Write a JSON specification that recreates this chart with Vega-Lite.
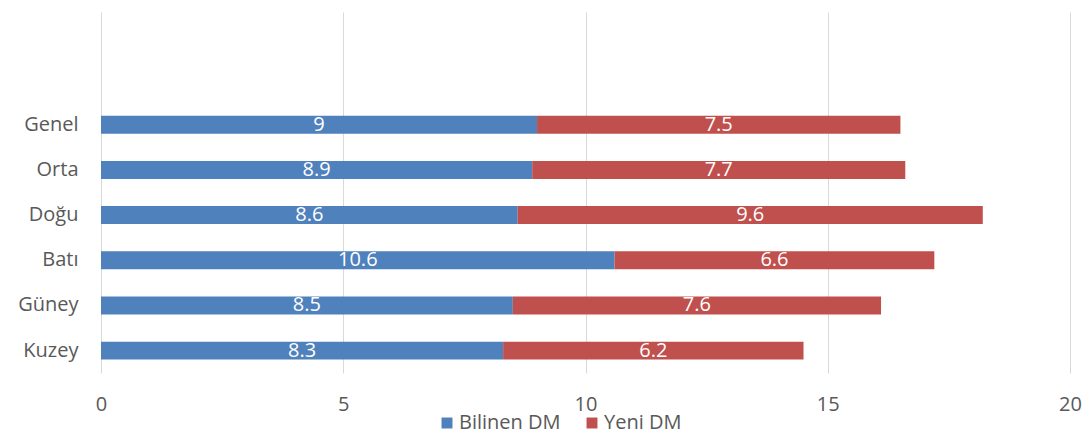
{
  "$schema": "https://vega.github.io/schema/vega-lite/v6.json",
  "autosize": "none",
  "width": 969,
  "height": 361,
  "padding": {"left": 101, "top": 12, "right": 21, "bottom": 64},
  "background": "white",
  "config": {
    "view": {"stroke": null},
    "font": "Open Sans"
  },
  "data": {
    "values": [
      {"region": "Genel", "series": "Bilinen DM", "value": 9.0},
      {"region": "Genel", "series": "Yeni DM", "value": 7.5},
      {"region": "Orta", "series": "Bilinen DM", "value": 8.9},
      {"region": "Orta", "series": "Yeni DM", "value": 7.7},
      {"region": "Doğu", "series": "Bilinen DM", "value": 8.6},
      {"region": "Doğu", "series": "Yeni DM", "value": 9.6},
      {"region": "Batı", "series": "Bilinen DM", "value": 10.6},
      {"region": "Batı", "series": "Yeni DM", "value": 6.6},
      {"region": "Güney", "series": "Bilinen DM", "value": 8.5},
      {"region": "Güney", "series": "Yeni DM", "value": 7.6},
      {"region": "Kuzey", "series": "Bilinen DM", "value": 8.3},
      {"region": "Kuzey", "series": "Yeni DM", "value": 6.2}
    ]
  },
  "encoding": {
    "y": {
      "field": "region",
      "type": "nominal",
      "scale": {
        "domain": [" ", "  ", "Genel", "Orta", "Doğu", "Batı", "Güney", "Kuzey"],
        "paddingInner": 0.603,
        "paddingOuter": 0.296
      },
      "axis": {
        "title": null,
        "ticks": false,
        "domain": false,
        "labelPadding": 23,
        "labelFontSize": 20,
        "labelColor": "#595959"
      }
    }
  },
  "layer": [
    {
      "mark": {"type": "bar"},
      "encoding": {
        "x": {
          "field": "value",
          "type": "quantitative",
          "stack": "zero",
          "scale": {"domain": [0, 20], "nice": false},
          "axis": {
            "title": null,
            "values": [0, 5, 10, 15, 20],
            "ticks": false,
            "domain": false,
            "grid": true,
            "gridColor": "#d9d9d9",
            "gridWidth": 1,
            "labelFlush": false,
            "labelPadding": 21,
            "labelFontSize": 20,
            "labelColor": "#595959"
          }
        },
        "order": {"field": "series", "type": "nominal", "sort": "ascending"},
        "color": {
          "field": "series",
          "type": "nominal",
          "scale": {"domain": ["Bilinen DM", "Yeni DM"], "range": ["#4F81BD", "#C0504D"]},
          "legend": {
            "title": null,
            "orient": "none",
            "legendX": 336,
            "legendY": 401,
            "direction": "horizontal",
            "symbolType": "square",
            "symbolSize": 120,
            "symbolStrokeWidth": 0,
            "symbolOpacity": 1,
            "labelFontSize": 20,
            "labelColor": "#595959",
            "columnPadding": 21,
            "labelOffset": 2
          }
        }
      }
    },
    {
      "mark": {"type": "text", "color": "white", "fontSize": 20, "baseline": "middle", "align": "center"},
      "encoding": {
        "x": {"field": "value", "type": "quantitative", "stack": "zero", "bandPosition": 0.5},
        "detail": {"field": "series", "type": "nominal"},
        "order": {"field": "series", "type": "nominal", "sort": "ascending"},
        "text": {"field": "value", "type": "quantitative", "format": ".1~f"}
      }
    }
  ]
}
